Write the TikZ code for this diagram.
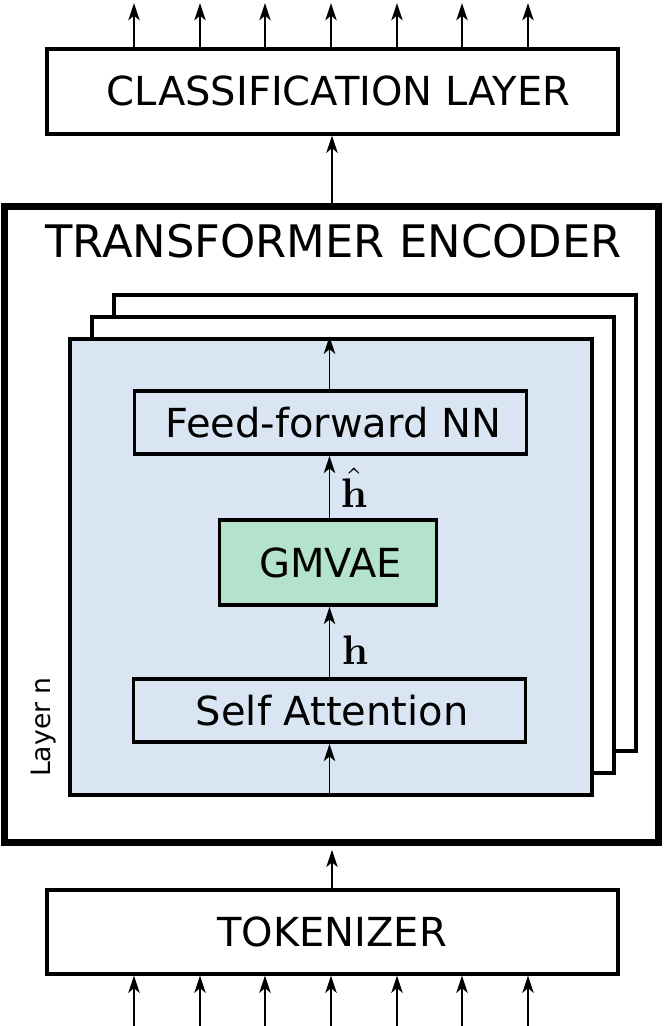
\documentclass[tikz,border=0pt]{standalone}
\usepackage[no-math]{fontspec}
\setmainfont{DejaVu Sans}
\usetikzlibrary{arrows.meta}
\definecolor{layerblue}{HTML}{DAE5F3}
\definecolor{gmgreen}{HTML}{B3E2CD}
\begin{document}
\begin{tikzpicture}[x=0.75pt,y=-0.75pt,
  txt/.style={font=\fontsize{30pt}{36pt}\selectfont},
  bigbox/.style={draw, line width=3pt, fill=white, inner sep=0pt, txt},
  smallbox/.style={draw, line width=2.7pt, fill=layerblue, inner sep=0pt, txt, minimum width=392*0.75pt, minimum height=63*0.75pt},
  layerbox/.style={draw, line width=3pt, minimum width=522*0.75pt, minimum height=456*0.75pt, inner sep=0pt},
  arr/.style={line width=1.3pt, -{Stealth[length=13pt,width=8.5pt,inset=3.5pt]}},
  mlabel/.style={font=\normalsize, inner sep=0pt}]
\useasboundingbox (0,0) rectangle (664,1026);

% classification layer
\node[bigbox, minimum width=571*0.75pt, minimum height=85*0.75pt] (cls) at (332,91) {\hspace*{10pt}CLASSIFICATION LAYER};

% transformer encoder
\node[draw, line width=5.6pt, minimum width=653.5*0.75pt, minimum height=635.5*0.75pt, inner sep=0pt] (enc) at (331.5,524.5) {};
\node[inner sep=0pt, font=\fontsize{33.6pt}{40pt}\selectfont] (title) at (333.5,241.5) {TRANSFORMER ENCODER};

% stacked layers
\node[layerbox, fill=white] (back) at (375,522.5) {};
\node[layerbox, fill=white] (middle) at (353,544.5) {};
\node[layerbox, fill=layerblue] (front) at (331,566.5) {};
\node[rotate=90, inner sep=0pt, font=\fontsize{20pt}{24pt}\selectfont] (layern) at (44,727) {Layer n};

% inner blocks
\node[smallbox] (ff) at (330.5,422.5) {\hspace*{4pt}Feed-forward NN};
\node[draw, line width=2.7pt, fill=gmgreen, inner sep=0pt, txt, minimum width=217*0.75pt, minimum height=85*0.75pt] (gm) at (328,562.5) {\hspace*{4pt}GMVAE};
\node[smallbox] (sa) at (329.5,710.5) {\hspace*{4pt}Self Attention};

\node[mlabel] (hhat) at (354,488) {\scalebox{3.1}{$\hat{\mathbf{h}}$}};
\node[mlabel] (h) at (355,650) {\scalebox{3.1}{$\mathbf{h}$}};

% tokenizer
\node[bigbox, minimum width=571*0.75pt, minimum height=84*0.75pt] (tok) at (332,931.5) {TOKENIZER};

% connectors
\draw[arr] (cls.south |- enc.north) -- (cls.south);
\draw[arr] (tok.north) -- ([yshift=-2.8pt]tok.north |- enc.south);
\draw[arr] (sa.south |- front.south) -- (sa.south);
\draw[arr] (sa.north) -- (sa.north |- gm.south);
\draw[arr] (sa.north |- gm.north) -- (sa.north |- ff.south);
\draw[arr] (sa.north |- ff.north) -- (sa.north |- front.north);

\foreach \i/\xx in {1/134,2/200,3/265,4/331,5/397,6/462,7/528} {
  \coordinate (out\i) at (\xx,3);
  \coordinate (in\i) at (\xx,1026);
  \draw[arr] (out\i |- cls.north) -- (out\i);
  \draw[arr] (in\i) -- (in\i |- tok.south);
}
\end{tikzpicture}
\end{document}
